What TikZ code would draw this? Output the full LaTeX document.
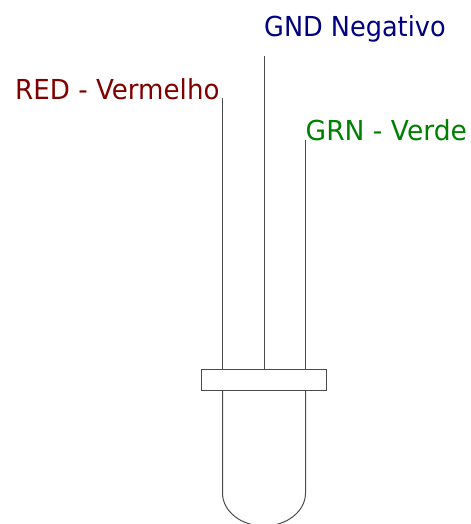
\documentclass[tikz,border=0pt]{standalone}
\usepackage{fontspec}
\setmainfont[FakeStretch=0.93]{DejaVu Sans}
\newfontfamily\redfont[FakeStretch=0.95]{DejaVu Sans}
\newfontfamily\grnfont[FakeStretch=0.965]{DejaVu Sans}
\definecolor{lineGray}{RGB}{75,75,75}
\definecolor{redText}{RGB}{128,0,0}
\definecolor{gndText}{RGB}{0,0,128}
\definecolor{grnText}{RGB}{0,128,0}
\tikzset{
  part/.style={draw=lineGray,line width=1bp},
  label/.style={inner sep=0pt,anchor=base west},
}
\begin{document}
\begin{tikzpicture}[x=1bp,y=-1bp]
\useasboundingbox (0,0) rectangle (471,524);
\node[label,text=gndText,font=\fontsize{27.5bp}{32bp}\selectfont] (gndlabel) at (264,36.7) {GND Negativo};
\node[label,text=redText,font=\redfont\fontsize{27.5bp}{32bp}\selectfont] (redlabel) at (15,99.7) {RED - Vermelho};
\node[label,text=grnText,font=\grnfont\fontsize{27.5bp}{32bp}\selectfont] (grnlabel) at (305.5,140.7) {GRN - Verde};
\node[part,rectangle,minimum width=125bp,minimum height=21bp,inner sep=0pt,outer sep=0pt] (flange) at (264,379.5) {};
\coordinate (redtop) at (222.5,98);
\coordinate (gndtop) at (264,56.5);
\coordinate (grntop) at (305.5,140);
\draw[part] (redtop) -- (redtop |- flange.north);
\draw[part] (gndtop) -- (gndtop |- flange.north);
\draw[part] (grntop) -- (grntop |- flange.north);
\coordinate (bodyleft) at (222.5,493);
\coordinate (bodyright) at (305.5,493);
\draw[part] (bodyleft |- flange.south) -- (bodyleft)
  arc[start angle=180,end angle=360,x radius=41.5,y radius=-33]
  -- (bodyright |- flange.south);
\end{tikzpicture}
\end{document}
